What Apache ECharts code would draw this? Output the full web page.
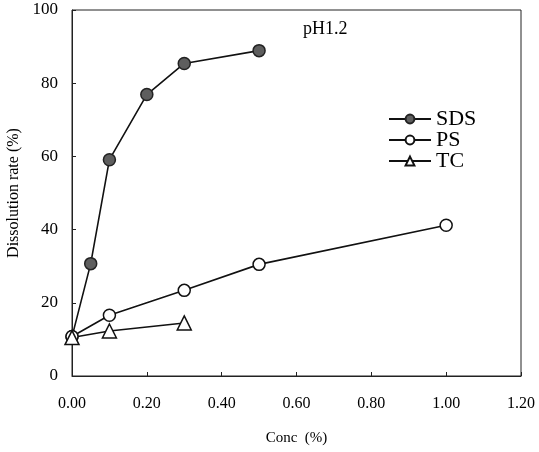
<!DOCTYPE html>
<html><head><meta charset="utf-8">
<script src="https://cdn.jsdelivr.net/npm/echarts@6/dist/echarts.min.js"></script>
<style>html,body{margin:0;padding:0;background:#fff}#c{width:539px;height:452px}</style>
</head><body><div id="c"></div>
<script>
const sdsX = [0, 0.05, 0.10, 0.20, 0.30, 0.50];
const sdsY = [10.7, 30.7, 59.1, 76.9, 85.4, 88.9];
const psX = [0, 0.10, 0.30, 0.50, 1.00];
const psY = [10.8, 16.6, 23.4, 30.5, 41.2];
const tcX = [0, 0.10, 0.30];
const tcY = [10.5, 12.3, 14.5];
const xTicks = ['0.00','0.20','0.40','0.60','0.80','1.00','1.20'];
const yTicks = ['0','20','40','60','80','100'];

const pair = (xs, ys) => xs.map((x, i) => [x, ys[i]]);
const font = '"Liberation Serif", "Times New Roman", serif';
const chart = echarts.init(document.getElementById('c'));
chart.setOption({
  animation: false,
  backgroundColor: '#fff',
  textStyle: { fontFamily: font, color: '#000' },
  grid: { left: 72, right: 18, top: 10, bottom: 76, show: true, borderColor: '#222', borderWidth: 1,
          containLabel: false, outerBoundsMode: 'none' },
  graphic: [{ type: 'text', left: 303, top: 20, style: { text: 'pH1.2', fontFamily: font, fontSize: 18, fill: '#000' } }],
  legend: {
    orient: 'vertical', left: 383, top: 103, itemWidth: 42, itemHeight: 11, itemGap: -1,
    textStyle: { fontFamily: font, fontSize: 22, lineHeight: 20, color: '#000' },
    data: ['SDS', 'PS', 'TC']
  },
  xAxis: {
    type: 'value', min: 0, max: 1.2, interval: 0.2,
    name: 'Conc  (%)', nameLocation: 'middle', nameGap: 55,
    nameTextStyle: { fontFamily: font, fontSize: 15, color: '#000' },
    axisLine: { lineStyle: { color: '#222', width: 1 } },
    axisTick: { inside: true, length: 4, lineStyle: { color: '#222' } },
    axisLabel: { fontFamily: font, fontSize: 16, color: '#000', margin: 20,
      formatter: v => xTicks[Math.round(v / 0.2)] },
    splitLine: { show: false }
  },
  yAxis: {
    type: 'value', min: 0, max: 100, interval: 20,
    name: 'Dissolution rate (%)', nameLocation: 'middle', nameGap: 50, nameRotate: 90,
    nameTextStyle: { fontFamily: font, fontSize: 16, color: '#000' },
    axisLine: { show: true, lineStyle: { color: '#222', width: 1 } },
    axisTick: { show: true, inside: true, length: 4, lineStyle: { color: '#222' } },
    axisLabel: { fontFamily: font, fontSize: 17, color: '#000', margin: 14,
      formatter: v => yTicks[Math.round(v / 20)] },
    splitLine: { show: false }
  },
  series: [
    { name: 'SDS', type: 'line', data: pair(sdsX, sdsY), symbol: 'circle', symbolSize: 12,
      lineStyle: { color: '#111', width: 1.6 },
      itemStyle: { color: '#5e5e5e', borderColor: '#222', borderWidth: 1.5 } },
    { name: 'PS', type: 'line', data: pair(psX, psY), symbol: 'circle', symbolSize: 12,
      lineStyle: { color: '#111', width: 1.6 },
      itemStyle: { color: '#fff', borderColor: '#111', borderWidth: 1.5 } },
    { name: 'TC', type: 'line', data: pair(tcX, tcY), symbol: 'triangle', symbolSize: 14,
      lineStyle: { color: '#111', width: 1.6 },
      itemStyle: { color: '#fff', borderColor: '#111', borderWidth: 1.5 } }
  ]
});
</script></body></html>
